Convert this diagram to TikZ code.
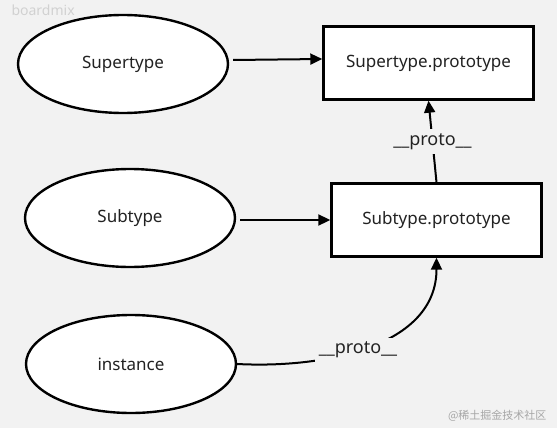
\documentclass[tikz,border=0pt]{standalone}
\usepackage{fontspec}
\setmainfont{Noto Sans}
\newfontfamily\cjk{Noto Sans CJK SC}
\usepackage{tikz}
\usetikzlibrary{arrows.meta, shapes.geometric}
\definecolor{bgcol}{HTML}{F2F2F2}
\definecolor{txtcol}{HTML}{222222}
\tikzset{
  typeell/.style={draw, ellipse, fill=white, line width=2.4pt, minimum width=210pt, minimum height=98pt, inner sep=0pt, font=\fontsize{17}{20}\selectfont, text=txtcol},
  protobox/.style={draw, rectangle, fill=white, line width=2.4pt, minimum width=210pt, minimum height=73pt, inner sep=0pt, font=\fontsize{17}{20}\selectfont, text=txtcol},
  link/.style={line width=2pt, -{Triangle[length=12pt, width=11pt]}},
  protolbl/.style={fill=bgcol, inner sep=4pt, font=\fontsize{18}{21}\selectfont, text=txtcol}
}

\begin{document}
\begin{tikzpicture}[x=1pt, y=-1pt]
\fill[bgcol] (0,0) rectangle (557,428);
\useasboundingbox (0,0) rectangle (557,428);
\node[text=black!18, anchor=west, font=\fontsize{14}{16}\selectfont] (wmark) at (8,10) {boardmix};
\node[text=black!35, anchor=east, font=\fontsize{11}{13}\selectfont] (wsite) at (550,416) {\cjk @稀土掘金技术社区};
\node[typeell] (sup) at (123,64) {Supertype};
\node[typeell] (sub) at (130,218) {Subtype};
\node[typeell] (inst) at (131,364) {instance};
\node[protobox] (supp) at (428.5,63) {Supertype.prototype};
\node[protobox] (subp) at (436.5,220) {Subtype.prototype};
\draw[link] (sup.east) ++(4,-4) -- (supp.west |- 0,59);
\draw[link] (sub.east) ++(4,2) -- (subp.west);
\draw[link] (subp.north) -- (supp.south) node[protolbl, pos=0.5] (lblsup) {\_\_proto\_\_};
\draw[link] (inst.east) to[out=-3, in=-90] node[protolbl, pos=0.45] (lblinst) {\_\_proto\_\_} (subp.south);
\end{tikzpicture}
\end{document}
